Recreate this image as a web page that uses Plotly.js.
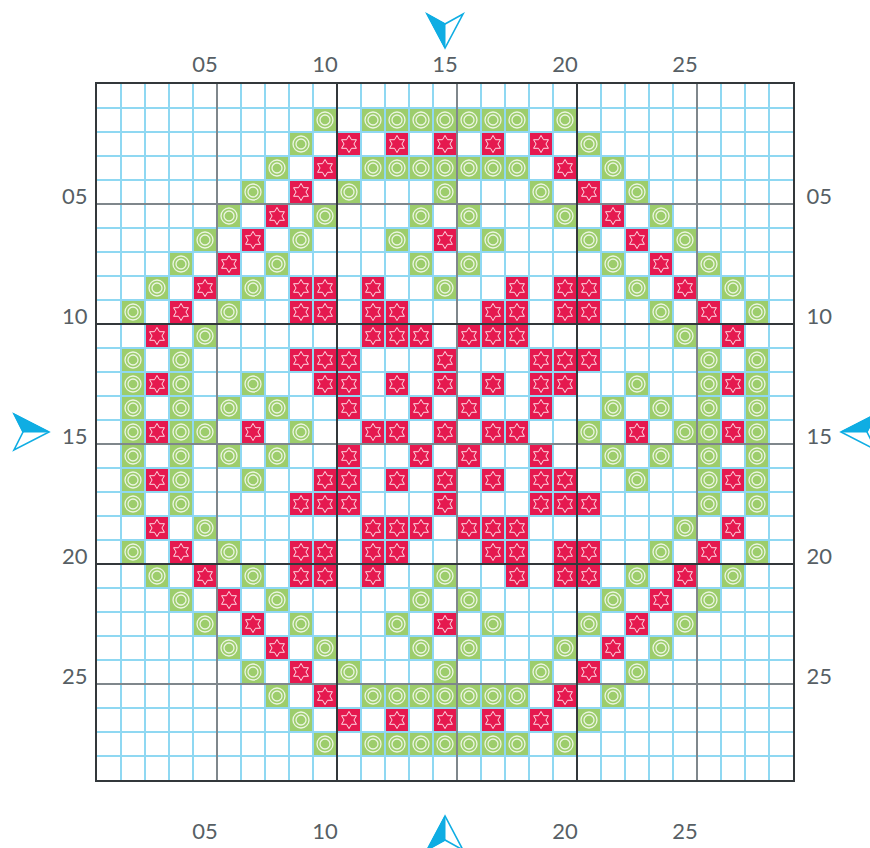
<!DOCTYPE html>
<html><head><meta charset="utf-8">
<script src="https://cdn.plot.ly/plotly-3.0.1.min.js"></script>
<style>html,body{margin:0;padding:0;background:#fff;}#chart{width:870px;height:848px;}</style>
</head><body><div id="chart"></div>
<script>
// Pattern: G = green (double circle), R = red (six-pointed star), . = empty
const patternRows = [
  ".............................",
  ".........G.GGGGGGG.G.........",
  "........G.R.R.R.R.R.G........",
  ".......G.R.GGGGGGG.R.G.......",
  "......G.R.G...G...G.R.G......",
  ".....G.R.G...G.G...G.R.G.....",
  "....G.R.G...G.R.G...G.R.G....",
  "...G.R.G.....G.G.....G.R.G...",
  "..G.R.G.RR.R..G..R.RR.G.R.G..",
  ".G.R.G..RR.RR...RR.RR..G.R.G.",
  "..R.G......RRR.RRR......G.R..",
  ".G.G....RRR...R...RRR....G.G.",
  ".GRG..G..RR.R.R.R.RR..G..GRG.",
  ".G.G.G.G..R..R.R..R..G.G.G.G.",
  ".GRGG.R.G..RR.R.RR..G.R.GGRG.",
  ".G.G.G.G..R..R.R..R..G.G.G.G.",
  ".GRG..G..RR.R.R.R.RR..G..GRG.",
  ".G.G....RRR...R...RRR....G.G.",
  "..R.G......RRR.RRR......G.R..",
  ".G.R.G..RR.RR...RR.RR..G.R.G.",
  "..G.R.G.RR.R..G..R.RR.G.R.G..",
  "...G.R.G.....G.G.....G.R.G...",
  "....G.R.G...G.R.G...G.R.G....",
  ".....G.R.G...G.G...G.R.G.....",
  "......G.R.G...G...G.R.G......",
  ".......G.R.GGGGGGG.R.G.......",
  "........G.R.R.R.R.R.G........",
  ".........G.GGGGGGG.G.........",
  "............................."
];
const tickValues = [5, 10, 15, 20, 25];
const tickLabels = ["05", "10", "15", "20", "25"];
const bottomTickLabels = ["05", "10", "", "20", "25"];
const centerMark = 15;

const GREEN = "#9dcd6c", RED = "#e5194f", BLUE_ARROW = "#0fade3";
const LIGHT_GRID = "#8fd8f2", MID_GRID = "#7f878c", DARK_GRID = "#33383b";

const nRows = patternRows.length, nCols = patternRows[0].length;
const colIdx = Array.from({length: nCols}, (_, i) => i + 1);
const rowIdx = Array.from({length: nRows}, (_, i) => i + 1);
const z = patternRows.map(r => r.split("").map(ch => ch === "G" ? 1 : (ch === "R" ? 2 : null)));
const gx = [], gy = [], rx = [], ry = [];
patternRows.forEach((r, i) => r.split("").forEach((ch, j) => {
  if (ch === "G") { gx.push(j + 1); gy.push(i + 1); }
  if (ch === "R") { rx.push(j + 1); ry.push(i + 1); }
}));

// grid line positions (cell boundaries)
const lightLines = [], midLines = [], darkLines = [];
for (let k = 1; k < nCols; k++) {
  const p = k + 0.5;
  if (k % 10 === 0) darkLines.push(p);
  else if (k % 5 === 0) midLines.push(p);
  else lightLines.push(p);
}
lightLines.unshift(0.5); lightLines.push(nCols + 0.5);

const xr = [0.5, nCols + 0.5], yr = [nRows + 0.5, 0.5];

const traces = [
  {type: "heatmap", x: colIdx, y: rowIdx, z: z, zmin: 1, zmax: 2, xgap: 2, ygap: 2,
   colorscale: [[0, GREEN], [0.5, GREEN], [0.5, RED], [1, RED]], showscale: false, hoverinfo: "skip"},
  {type: "scatter", mode: "markers", x: gx, y: gy, hoverinfo: "skip",
   marker: {symbol: "circle-open", size: 16, color: "rgba(255,255,255,0.8)", line: {color: "rgba(255,255,255,0.8)", width: 1.3}}},
  {type: "scatter", mode: "markers", x: gx, y: gy, hoverinfo: "skip",
   marker: {symbol: "circle-open", size: 10, color: "rgba(255,255,255,0.8)", line: {color: "rgba(255,255,255,0.8)", width: 1.3}}},
  {type: "scatter", mode: "markers", x: rx, y: ry, hoverinfo: "skip",
   marker: {symbol: "hexagram-open", size: 13, color: "rgba(255,228,236,0.95)", line: {color: "rgba(255,228,236,0.95)", width: 1}}},
  {type: "scatter", x: [], y: [], xaxis: "x2", yaxis: "y2", hoverinfo: "skip"},
  {type: "scatter", x: [], y: [], xaxis: "x3", yaxis: "y3", hoverinfo: "skip"},
  {type: "scatter", x: [], y: [], xaxis: "x4", yaxis: "y4", hoverinfo: "skip"},
  {type: "scatter", x: [], y: [], xaxis: "x5", yaxis: "y5", hoverinfo: "skip"}
];

const tickFont = {family: "Lato, 'Open Sans', sans-serif", size: 22, color: "#575f65"};
function gridAxis(vals, color, extra) {
  return {range: extra.range, autorange: false, overlaying: extra.over, tickmode: "array", tickvals: vals,
    showticklabels: false, ticks: "", showgrid: true, gridcolor: color, gridwidth: 2, zeroline: false, showline: false, fixedrange: true};
}

const layout = {
  width: 870, height: 848,
  margin: {l: 97, r: 77, t: 84, b: 68, pad: 0},
  paper_bgcolor: "#ffffff", plot_bgcolor: "#ffffff",
  showlegend: false, hovermode: false,
  xaxis: {range: xr, autorange: false, tickmode: "array", tickvals: tickValues, ticktext: bottomTickLabels, tickfont: tickFont,
    ticks: "outside", ticklen: 31, tickcolor: "rgba(0,0,0,0)", showgrid: false, zeroline: false,
    showline: true, mirror: true, linecolor: DARK_GRID, linewidth: 2, fixedrange: true},
  xaxis2: {range: xr, autorange: false, overlaying: "x", side: "top", tickmode: "array", tickvals: tickValues, ticktext: tickLabels, tickfont: tickFont,
    ticks: "outside", ticklen: 2, tickcolor: "rgba(0,0,0,0)", showgrid: false, zeroline: false, showline: false, fixedrange: true},
  yaxis: {range: yr, autorange: false, tickmode: "array", tickvals: tickValues, ticktext: tickLabels, tickfont: tickFont,
    ticks: "outside", ticklen: 3, tickcolor: "rgba(0,0,0,0)", ticklabelshift: -4, showgrid: false, zeroline: false,
    showline: true, mirror: true, linecolor: DARK_GRID, linewidth: 2, fixedrange: true},
  yaxis2: {range: yr, autorange: false, overlaying: "y", side: "right", tickmode: "array", tickvals: tickValues, ticktext: tickLabels, tickfont: tickFont,
    ticks: "outside", ticklen: 8, tickcolor: "rgba(0,0,0,0)", ticklabelshift: -4, showgrid: false, zeroline: false, showline: false, fixedrange: true},
  xaxis3: gridAxis(lightLines, LIGHT_GRID, {range: xr, over: "x"}),
  yaxis3: gridAxis(lightLines, LIGHT_GRID, {range: yr, over: "y"}),
  xaxis4: gridAxis(midLines, MID_GRID, {range: xr, over: "x"}),
  yaxis4: gridAxis(midLines, MID_GRID, {range: yr, over: "y"}),
  xaxis5: gridAxis(darkLines, DARK_GRID, {range: xr, over: "x"}),
  yaxis5: gridAxis(darkLines, DARK_GRID, {range: yr, over: "y"}),
  shapes: []
};

// center arrows (pixel-sized, anchored to the center column / row)
function arrowPair(cfg) {
  return [
    Object.assign({type: "path", path: cfg.outline, fillcolor: "#ffffff", line: {color: BLUE_ARROW, width: 1.6}, layer: "above"}, cfg.pos),
    Object.assign({type: "path", path: cfg.fill, fillcolor: BLUE_ARROW, line: {color: BLUE_ARROW, width: 1}, layer: "above"}, cfg.pos)
  ];
}
const topPos = {xref: "x", xsizemode: "pixel", xanchor: centerMark, yref: "paper", ysizemode: "pixel", yanchor: 1};
const botPos = {xref: "x", xsizemode: "pixel", xanchor: centerMark, yref: "paper", ysizemode: "pixel", yanchor: 0};
const leftPos = {xref: "paper", xsizemode: "pixel", xanchor: 0, yref: "y", ysizemode: "pixel", yanchor: centerMark};
const rightPos = {xref: "paper", xsizemode: "pixel", xanchor: 1, yref: "y", ysizemode: "pixel", yanchor: centerMark};
layout.shapes = [].concat(
  arrowPair({pos: topPos, fill: "M0,36L-18,70L0,60Z", outline: "M0,36L-18,70L0,60L18,70Z"}),
  arrowPair({pos: botPos, fill: "M0,-36L-18,-70L0,-60Z", outline: "M0,-36L-18,-70L0,-60L18,-70Z"}),
  arrowPair({pos: leftPos, fill: "M-48,0L-83,18L-74,0Z", outline: "M-48,0L-83,18L-74,0L-83,-18Z"}),
  arrowPair({pos: rightPos, fill: "M48,0L83,18L74,0Z", outline: "M48,0L83,18L74,0L83,-18Z"})
);

Plotly.newPlot("chart", traces, layout, {staticPlot: true, displayModeBar: false});
</script>
</body></html>
